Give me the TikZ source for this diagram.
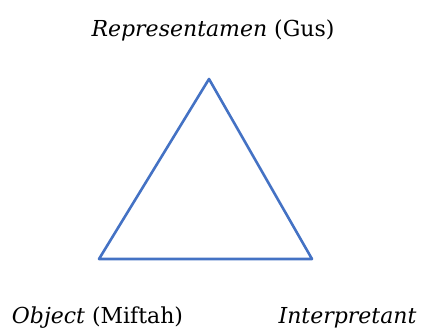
\documentclass[tikz,border=0pt]{standalone}
\usepackage{fontspec}
\setmainfont{DejaVu Serif}
\usetikzlibrary{positioning}
\definecolor{edgeblue}{HTML}{4472C4}

\begin{document}
\begin{tikzpicture}[x=1pt, y=1pt,
    side/.style={draw=edgeblue, line width=2.6pt, line join=round},
    lbl/.style={inner sep=0pt, anchor=base, font=\fontsize{22}{26}\selectfont}]
  \useasboundingbox (0,0) rectangle (422,327);
  % corners of the triangle
  \coordinate (apex) at (209,248);
  \coordinate (left) at (99,68);
  \coordinate (right) at (312,68);
  \draw[side] (apex) -- (right) -- (left) -- cycle;
  % labels
  \node[lbl] (rep) at (213,290) {\emph{Representamen} (Gus)};
  \node[lbl] (obj) at (97.5,4) {\emph{Object} (Miftah)};
  \node[lbl] (int) at (347.5,4) {\emph{Interpretant}};
\end{tikzpicture}
\end{document}
